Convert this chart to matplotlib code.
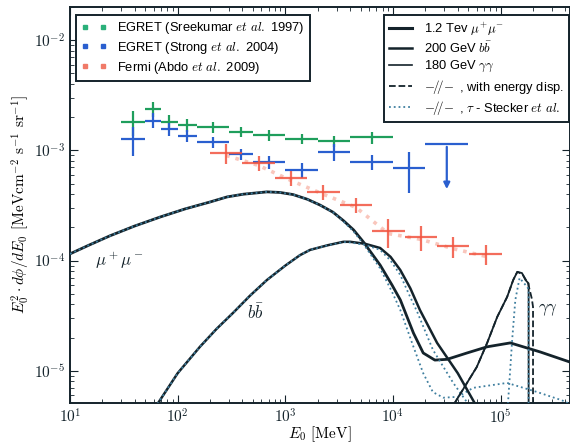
import matplotlib
matplotlib.use("Agg")
import matplotlib.pyplot as plt
from matplotlib.lines import Line2D
import numpy as np

# EGRET, Sreekumar et al. (bin edges in MeV, E^2 dphi/dE)
sree_lo = [30, 50, 70, 100, 150, 300, 500, 1000, 2000, 4000]
sree_hi = [50, 70, 100, 150, 300, 500, 1000, 2000, 4000, 10000]
sree_y = [1.81e-3, 2.37e-3, 1.81e-3, 1.69e-3, 1.63e-3, 1.47e-3, 1.38e-3, 1.28e-3, 1.21e-3, 1.31e-3]
sree_rel = [0.25, 0.16, 0.16, 0.14, 0.12, 0.11, 0.11, 0.11, 0.12, 0.13]

# EGRET, Strong et al.
strong_lo = [30, 50, 70, 100, 150, 300, 500, 1000, 2000, 4000, 10000]
strong_hi = [50, 70, 100, 150, 300, 500, 1000, 2000, 4000, 10000, 20000]
strong_y = [1.26e-3, 1.85e-3, 1.56e-3, 1.35e-3, 1.19e-3, 0.925e-3, 0.78e-3, 0.66e-3, 0.966e-3, 0.78e-3, 0.69e-3]
strong_up = [1.63e-3, 2.18e-3, 1.78e-3, 1.52e-3, 1.33e-3, 1.03e-3, 0.88e-3, 0.76e-3, 1.14e-3, 0.9e-3, 0.966e-3]
strong_dn = [0.89e-3, 1.6e-3, 1.36e-3, 1.2e-3, 1.06e-3, 0.82e-3, 0.68e-3, 0.56e-3, 0.8e-3, 0.66e-3, 0.41e-3]
strong_ul_lo, strong_ul_hi = 20000, 50000
strong_ul_y, strong_ul_tip = 1.14e-3, 0.42e-3

# Fermi, Abdo et al.
fermi_lo = [200, 400, 800, 1600, 3200, 6400, 12800, 25600, 51200]
fermi_hi = [400, 800, 1600, 3200, 6400, 12800, 25600, 51200, 102400]
fermi_y = [0.946e-3, 0.767e-3, 0.56e-3, 0.42e-3, 0.32e-3, 0.185e-3, 0.164e-3, 0.135e-3, 0.115e-3]
fermi_rel = [0.2, 0.15, 0.15, 0.15, 0.15, 0.3, 0.25, 0.22, 0.2]

# model spectra
mumu_E = [10, 15, 23.6, 40, 68.5, 117, 200, 288, 407, 676, 890, 1180, 1600, 2100, 2770, 3470, 4300, 5300,
          7600, 9800, 11700, 15500, 19100, 24500, 31800, 48700, 75000, 1.23e5, 2.34e5, 4.4e5]
mumu_y = [1.15e-4, 1.38e-4, 1.68e-4, 2.06e-4, 2.48e-4, 2.94e-4, 3.4e-4, 3.78e-4, 4.0e-4, 4.2e-4, 4.15e-4,
          3.97e-4, 3.6e-4, 3.19e-4, 2.75e-4, 2.3e-4, 1.9e-4, 1.48e-4, 9.1e-5, 6.0e-5, 4.4e-5, 2.2e-5,
          1.45e-5, 1.25e-5, 1.27e-5, 1.45e-5, 1.65e-5, 1.79e-5, 1.48e-5, 1.2e-5]
mumu_tau_E = [10, 15, 23.6, 40, 68.5, 117, 200, 288, 407, 676, 890, 1180, 1600, 2100, 2770, 3470, 4300, 5300,
              7600, 9800, 11700, 15500, 19100, 23500, 29400, 40000, 55600, 1.15e5, 2.2e5, 3.7e5, 4.4e5]
mumu_tau_y = [1.15e-4, 1.38e-4, 1.68e-4, 2.06e-4, 2.48e-4, 2.94e-4, 3.4e-4, 3.78e-4, 4.0e-4, 4.2e-4, 4.15e-4,
              3.97e-4, 3.6e-4, 3.19e-4, 2.75e-4, 2.26e-4, 1.84e-4, 1.42e-4, 8.5e-5, 5.2e-5, 3.56e-5, 1.65e-5,
              9.5e-6, 6.4e-6, 5.7e-6, 5.8e-6, 7.0e-6, 7.76e-6, 6.4e-6, 5.4e-6, 5.0e-6]
bb_E = [65, 100, 161, 230, 327, 470, 676, 1000, 1370, 1700, 2500, 3470, 4000, 5500, 7600, 9500, 11700,
        14500, 17800, 25700, 40000, 58000]
bb_y = [5e-6, 9.5e-6, 1.65e-5, 2.4e-5, 3.35e-5, 4.8e-5, 6.67e-5, 9.0e-5, 1.12e-4, 1.25e-4, 1.38e-4,
        1.48e-4, 1.48e-4, 1.42e-4, 1.3e-4, 1.08e-4, 8.2e-5, 5.6e-5, 3.56e-5, 1.79e-5, 9.5e-6, 5e-6]
bb_tau_E = [65, 100, 161, 230, 327, 470, 676, 1000, 1370, 1700, 2500, 3470, 4000, 5500, 7600, 9500, 11700,
            14000, 16800, 23500, 36300, 50000]
bb_tau_y = [5e-6, 9.5e-6, 1.65e-5, 2.4e-5, 3.35e-5, 4.8e-5, 6.67e-5, 9.0e-5, 1.12e-4, 1.25e-4, 1.38e-4,
            1.47e-4, 1.46e-4, 1.39e-4, 1.25e-4, 1.0e-4, 7.4e-5, 5.0e-5, 3.42e-5, 1.55e-5, 7.76e-6, 5e-6]
gg_E = [37000, 60000, 75000, 93000, 1.15e5, 1.31e5, 1.43e5, 1.58e5, 1.7e5, 1.82e5, 1.82e5]
gg_y = [5e-6, 1.08e-5, 1.79e-5, 3.08e-5, 4.68e-5, 6.67e-5, 7.9e-5, 7.7e-5, 6.67e-5, 6.2e-5, 5e-6]
gg_disp_E = [37000, 60000, 75000, 93000, 1.15e5, 1.31e5, 1.43e5, 1.6e5, 1.8e5, 1.95e5, 2.0e5, 2.0e5]
gg_disp_y = [5e-6, 1.08e-5, 1.79e-5, 3.08e-5, 4.68e-5, 6.67e-5, 7.9e-5, 7.5e-5, 6.2e-5, 4.5e-5, 3.8e-5, 5e-6]
gg_tau_E = [1.17e5, 1.28e5, 1.37e5, 1.5e5, 1.77e5, 1.82e5, 1.82e5]
gg_tau_y = [5e-6, 1.9e-5, 4.4e-5, 6.95e-5, 5.75e-5, 5.5e-5, 5e-6]

plt.rcParams['font.family'] = 'serif'
plt.rcParams['font.serif'] = ['cmr10']
plt.rcParams['mathtext.fontset'] = 'cm'
plt.rcParams['axes.formatter.use_mathtext'] = True

green = '#1f9e5c'
blue = '#2a5fcf'
red = '#f2543f'
dotc = '#3f7f9f'
ink = '#14232b'


def centers(lo, hi):
    lo, hi = np.array(lo, float), np.array(hi, float)
    c = np.sqrt(lo * hi)
    return c, [c - lo, hi - c]


fig = plt.figure(figsize=(5.7, 4.43), dpi=100)
ax = fig.add_axes([0.1228, 0.0903, 0.877, 0.894])

# data points
c, xe = centers(sree_lo, sree_hi)
y = np.array(sree_y)
ax.errorbar(c, y, xerr=xe, yerr=y * np.array(sree_rel), fmt='none', ecolor=green, elinewidth=1.6, capsize=0, zorder=4)

c, xe = centers(strong_lo, strong_hi)
y = np.array(strong_y)
ax.errorbar(c, y, xerr=xe, yerr=[y - np.array(strong_dn), np.array(strong_up) - y],
            fmt='none', ecolor=blue, elinewidth=1.6, capsize=0, zorder=4)
c, xe = centers([strong_ul_lo], [strong_ul_hi])
ax.errorbar(c, [strong_ul_y], xerr=xe, fmt='none', ecolor=blue, elinewidth=1.6, capsize=0, zorder=4)
ax.annotate('', xy=(c[0], strong_ul_tip), xytext=(c[0], strong_ul_y),
            arrowprops=dict(arrowstyle='-|>', color=blue, lw=1.6, mutation_scale=9), zorder=4)

c, xe = centers(fermi_lo, fermi_hi)
y = np.array(fermi_y)
ax.plot(c, y * 0.95, color='#f5a090', lw=2.6, ls=':', alpha=0.6, zorder=3)
ax.errorbar(c, y, xerr=xe, yerr=y * np.array(fermi_rel), fmt='none', ecolor=red, elinewidth=1.6,
            capsize=0, alpha=0.85, zorder=4)

# model curves
ax.plot(mumu_E, mumu_y, color=ink, lw=2.0, zorder=5)
ax.plot(mumu_tau_E, mumu_tau_y, color=dotc, lw=1.3, ls=':', zorder=5)
ax.plot(bb_E, bb_y, color=ink, lw=1.8, zorder=5)
ax.plot(bb_tau_E, bb_tau_y, color=dotc, lw=1.3, ls=':', zorder=5)
ax.plot(gg_E, gg_y, color=ink, lw=1.3, zorder=5)
ax.plot(gg_disp_E, gg_disp_y, color=ink, lw=1.3, ls='--', zorder=5)
ax.plot(gg_tau_E, gg_tau_y, color=dotc, lw=1.3, ls=':', zorder=5)

ax.text(28.5, 1.0e-4, r'$\mu^+\mu^-$', fontsize=12, ha='center', va='center', color=ink)
ax.text(525, 3.42e-5, r'$b\bar{b}$', fontsize=12, ha='center', va='center', color=ink)
ax.text(2.77e5, 3.56e-5, r'$\gamma\gamma$', fontsize=12, ha='center', va='center', color=ink)

ax.set_xscale('log')
ax.set_yscale('log')
ax.set_xlim(10, 4.4e5)
ax.set_ylim(5.1e-6, 2e-2)
ax.tick_params(which='both', direction='in', top=True, right=True, labelsize=11, colors=ink)
ax.tick_params(which='major', length=6)
ax.tick_params(which='minor', length=3)
for s in ax.spines.values():
    s.set_color(ink)
    s.set_linewidth(1.4)

ax.set_xlabel(r'$E_0$ [MeV]', fontsize=11, labelpad=-1)
ax.set_ylabel(r'$E_0^2\cdot d\phi/dE_0$ [MeVcm$^{-2}$ s$^{-1}$ sr$^{-1}$]', fontsize=11, labelpad=1)

sans = {'family': 'Liberation Sans', 'size': 9.3}
h1 = [Line2D([], [], ls='none', marker='s', ms=3, color=col) for col in ('#2ab07a', blue, '#f07a68')]
l1 = ax.legend(h1, [r'EGRET (Sreekumar $et\ al.$ 1997)', r'EGRET (Strong $et\ al.$ 2004)',
                    r'Fermi (Abdo $et\ al.$ 2009)'],
               loc='upper left', bbox_to_anchor=(0.012, 0.98), borderaxespad=0, numpoints=2,
               prop=sans, fancybox=False, edgecolor=ink, framealpha=1, handlelength=2.0,
               handletextpad=0.8, labelspacing=0.3, borderpad=0.4)
l1.get_frame().set_linewidth(1.4)
ax.add_artist(l1)

h2 = [Line2D([], [], color=ink, lw=2.2), Line2D([], [], color=ink, lw=1.8), Line2D([], [], color=ink, lw=1.2),
      Line2D([], [], color=ink, lw=1.3, ls='--'), Line2D([], [], color=dotc, lw=1.3, ls=':')]
l2 = ax.legend(h2, [r'1.2 Tev $\mu^{+}\mu^{-}$', r'200 GeV $b\bar{b}$', r'180 GeV $\gamma\gamma$',
                    r'$-\!/\!/\!-$ , with energy disp.', r'$-\!/\!/\!-$ , $\tau$ - Stecker $et\ al.$'],
               loc='upper right', bbox_to_anchor=(0.998, 0.98), borderaxespad=0,
               prop=sans, fancybox=False, edgecolor=ink, framealpha=1, handlelength=1.8,
               handletextpad=0.9, labelspacing=0.25, borderpad=0.4)
l2.get_frame().set_linewidth(1.4)

fig.savefig('out.png', dpi=100)
